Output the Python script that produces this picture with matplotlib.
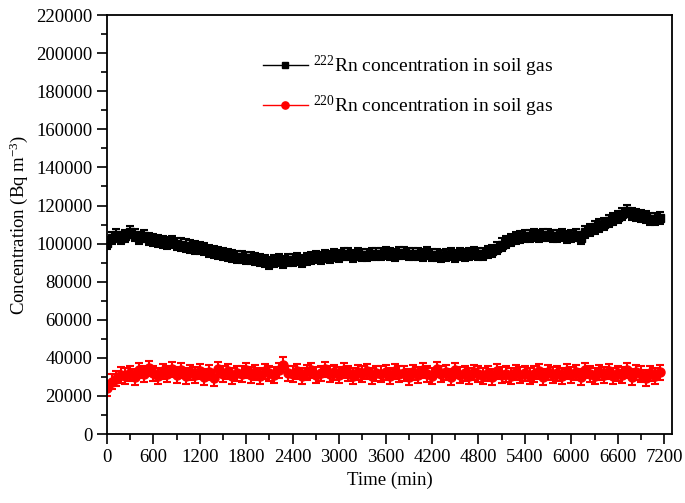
import numpy as np
import matplotlib
matplotlib.use("Agg")
import matplotlib.pyplot as plt
from matplotlib.ticker import MultipleLocator

plt.rcParams["font.family"] = ["Liberation Serif", "DejaVu Serif"]
plt.rcParams["mathtext.fontset"] = "custom"
plt.rcParams["mathtext.rm"] = "Liberation Serif"
plt.rcParams["mathtext.it"] = "Liberation Serif:italic"

# sampling times (min), one reading every 60 min
TIME_MIN = list(range(0, 7200, 60))

# 222Rn in soil gas (x1000 Bq m-3), rows of 10 readings = 600 min
RN222_K = [
    100.5, 103.0, 104.5, 103.0, 104.0, 106.0, 104.5, 103.0, 104.0, 102.5,
    102.0, 101.5, 101.0, 100.5, 101.0, 100.0, 99.5, 99.0, 98.5, 98.0,
    97.5, 97.0, 96.0, 95.5, 95.0, 94.5, 94.0, 93.5, 93.0, 93.0,
    92.5, 92.5, 92.0, 91.5, 91.0, 90.0, 91.0, 91.5, 90.5, 91.5,
    91.5, 92.0, 91.0, 92.0, 92.5, 93.0, 92.5, 93.5, 93.0, 94.0,
    93.5, 94.5, 94.5, 93.5, 94.5, 94.0, 94.0, 94.5, 94.5, 94.5,
    95.0, 94.5, 94.0, 95.0, 95.0, 94.5, 94.5, 94.5, 94.0, 95.0,
    94.0, 94.0, 93.5, 94.0, 94.5, 93.5, 94.5, 94.0, 94.5, 95.0,
    94.5, 94.5, 95.5, 96.0, 97.5, 99.5, 101.0, 102.0, 103.0, 103.5,
    104.0, 104.0, 104.5, 104.0, 104.5, 104.5, 104.0, 104.0, 104.5, 103.5,
    104.0, 104.5, 103.0, 106.0, 107.0, 108.5, 109.5, 110.5, 112.0, 113.0,
    114.0, 115.5, 117.0, 115.5, 115.0, 114.5, 114.0, 113.0, 113.0, 113.5,
]

# 220Rn in soil gas (x1000 Bq m-3)
RN220_K = [
    24.0, 27.5, 29.0, 31.0, 30.5, 32.0, 30.0, 33.5, 31.5, 34.5,
    32.0, 30.5, 33.0, 31.5, 34.0, 31.0, 33.5, 30.5, 32.5, 31.0,
    33.0, 30.0, 32.5, 29.5, 34.0, 31.5, 33.0, 30.5, 32.0, 31.5,
    33.5, 31.0, 32.5, 30.5, 33.0, 32.0, 31.0, 33.5, 36.5, 32.0,
    31.5, 33.0, 30.5, 32.5, 33.5, 31.0, 32.0, 34.0, 31.5, 32.5,
    31.0, 33.5, 32.0, 30.5, 32.5, 31.5, 33.0, 30.5, 32.0, 31.5,
    32.5, 30.5, 33.0, 31.5, 32.0, 30.0, 32.5, 31.0, 33.5, 31.5,
    30.5, 34.0, 31.5, 32.5, 30.0, 33.5, 31.0, 32.0, 30.5, 32.5,
    31.5, 30.5, 32.0, 30.0, 33.0, 31.0, 31.5, 30.5, 32.5, 31.0,
    32.0, 30.5, 31.5, 33.0, 30.0, 32.5, 31.0, 32.0, 30.5, 33.0,
    31.0, 32.5, 30.0, 33.5, 31.5, 30.5, 32.5, 31.0, 33.0, 30.5,
    32.0, 31.0, 33.5, 30.0, 32.5, 31.5, 29.5, 32.0, 30.5, 32.5,
]

RN222_ERR = 3200   # Bq m-3
RN220_ERR = 4000

t = np.array(TIME_MIN)
rn222 = np.array(RN222_K) * 1000
rn220 = np.array(RN220_K) * 1000

fig = plt.figure(figsize=(6.85, 5.03), dpi=100)
ax = fig.add_axes([0.156, 0.137, 0.825, 0.833])

ax.errorbar(t, rn222, yerr=RN222_ERR, fmt="s-", color="black", ms=6,
            lw=1, elinewidth=1.5, capsize=3, capthick=1.5,
            label="$^{222}$Rn concentration in soil gas")
ax.errorbar(t, rn220, yerr=RN220_ERR, fmt="o-", color="red", ms=6.5,
            lw=1, elinewidth=1.5, capsize=3, capthick=1.5,
            label="$^{220}$Rn concentration in soil gas")

ax.set_xlim(0, 7300)
ax.set_ylim(0, 220000)
ax.xaxis.set_major_locator(MultipleLocator(600))
ax.xaxis.set_minor_locator(MultipleLocator(300))
ax.yaxis.set_major_locator(MultipleLocator(20000))
ax.yaxis.set_minor_locator(MultipleLocator(10000))
ax.tick_params(which="major", direction="out", length=7, width=1.2, labelsize=13.5,
               top=False, right=False)
ax.tick_params(which="minor", direction="out", length=4, width=1.2,
               top=False, right=False)
for s in ax.spines.values():
    s.set_linewidth(1.3)

ax.set_xlabel("Time (min)", fontsize=13.5)
ax.set_ylabel("Concentration (Bq m$^{-3}$)", fontsize=13.5)

# errorbar legend handles without the bar segments
handles, labels = ax.get_legend_handles_labels()
handles = [h[0] for h in handles]
ax.legend(handles, labels, loc="upper left", bbox_to_anchor=(0.245, 0.95),
          frameon=False, fontsize=14, handlelength=2.3, handletextpad=0.3,
          labelspacing=0.75, markerscale=0.8)

fig.savefig("out.png", dpi=100)
